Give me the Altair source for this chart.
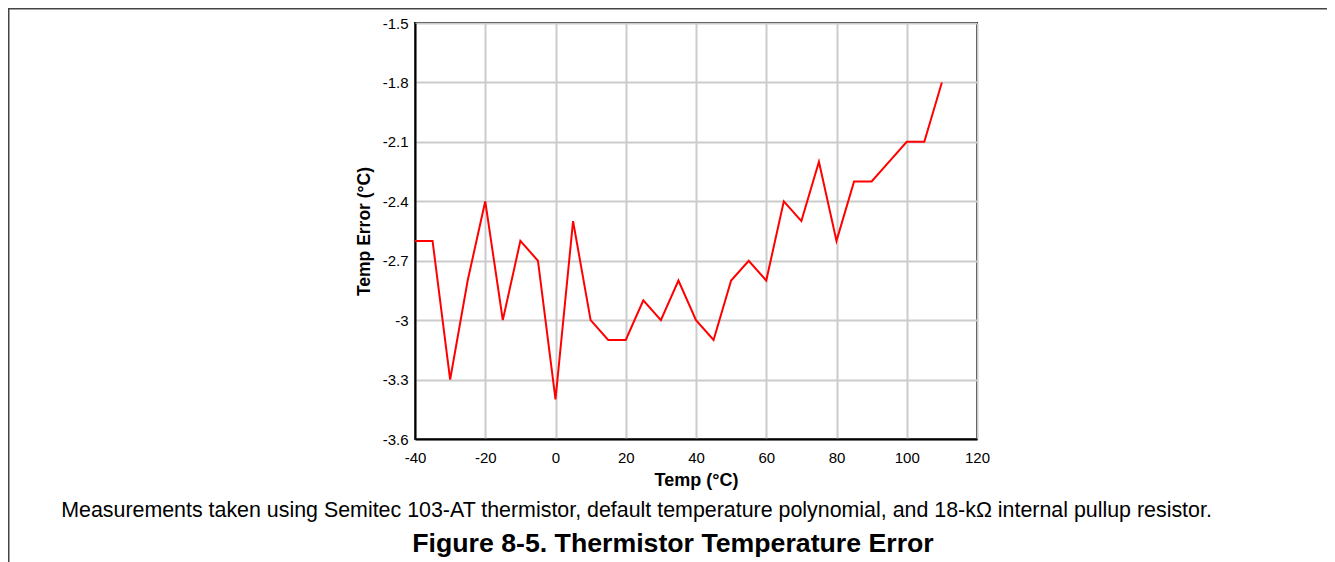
import altair as alt
import pandas as pd

temps = [-40, -35, -30, -25, -20, -15, -10, -5, 0, 5, 10, 15, 20, 25, 30, 35,
         40, 45, 50, 55, 60, 65, 70, 75, 80, 85, 90, 95, 100, 105, 110]
errors = [-2.6, -2.6, -3.3, -2.8, -2.4, -3.0, -2.6, -2.7, -3.4, -2.5, -3.0, -3.1,
          -3.1, -2.9, -3.0, -2.8, -3.0, -3.1, -2.8, -2.7, -2.8, -2.4, -2.5, -2.2,
          -2.6, -2.3, -2.3, -2.2, -2.1, -2.1, -1.8]
x_ticks = [-40, -20, 0, 20, 40, 60, 80, 100, 120]
y_ticks = [-3.6, -3.3, -3.0, -2.7, -2.4, -2.1, -1.8, -1.5]

caption = ("Measurements taken using Semitec 103-AT thermistor, default temperature "
           "polynomial, and 18-k\u03a9 internal pullup resistor.")
fig_title = "Figure 8-5. Thermistor Temperature Error"

df = pd.DataFrame({"temp": temps, "err": errors})
one = pd.DataFrame({"k": [0]})

FONT = "Liberation Sans"

line = alt.Chart(df).mark_line(color="#ff0000", strokeWidth=2).encode(
    x=alt.X("temp:Q",
            scale=alt.Scale(domain=[-40, 120], nice=False, zero=False),
            axis=alt.Axis(values=x_ticks, title="Temp (°C)",
                          labelExpr="'' + datum.value", labelFlush=False,
                          grid=True, ticks=False, labelPadding=11,
                          titlePadding=6)),
    y=alt.Y("err:Q",
            scale=alt.Scale(domain=[-3.6, -1.5], nice=False, zero=False),
            axis=alt.Axis(values=y_ticks, title="Temp Error (°C)",
                          labelExpr="'' + datum.value", labelFlush=False,
                          grid=True, ticks=False, labelPadding=7,
                          titlePadding=9)),
)

frame_v = alt.Chart(one).mark_rule(color="#444444", strokeWidth=1.5).encode(
    x=alt.value(-406.25), x2=alt.value(-406.25),
    y=alt.value(-15), y2=alt.value(540))
frame_h = alt.Chart(one).mark_rule(color="#444444", strokeWidth=1.5).encode(
    x=alt.value(-407), x2=alt.value(912),
    y=alt.value(-14.25), y2=alt.value(-14.25))

cap = alt.Chart(one).mark_text(fontSize=21.4, font=FONT, color="black",
                               align="center", baseline="middle").encode(
    x=alt.value(221.5), y=alt.value(488), text=alt.value(caption))
fig = alt.Chart(one).mark_text(fontSize=26.7, font=FONT, fontWeight="bold",
                               color="black", align="center",
                               baseline="middle").encode(
    x=alt.value(258), y=alt.value(521), text=alt.value(fig_title))

chart = alt.layer(line, frame_v, frame_h, cap, fig).properties(
    width=562, height=416,
    autosize=alt.AutoSizeParams(type="none"),
    padding={"left": 407, "top": 15, "right": 350, "bottom": 123},
).configure_axis(
    domain=True, domainColor="black", domainWidth=2,
    gridColor="#cccccc", gridWidth=2,
    labelFont=FONT, labelFontSize=15, labelColor="black",
    titleFont=FONT, titleFontSize=18, titleFontWeight="bold", titleColor="black",
).configure_axisY(titleFontSize=17.5).configure_view(stroke="black", strokeWidth=2)

chart.save("out.html", embed_options={"renderer": "svg", "actions": False})
